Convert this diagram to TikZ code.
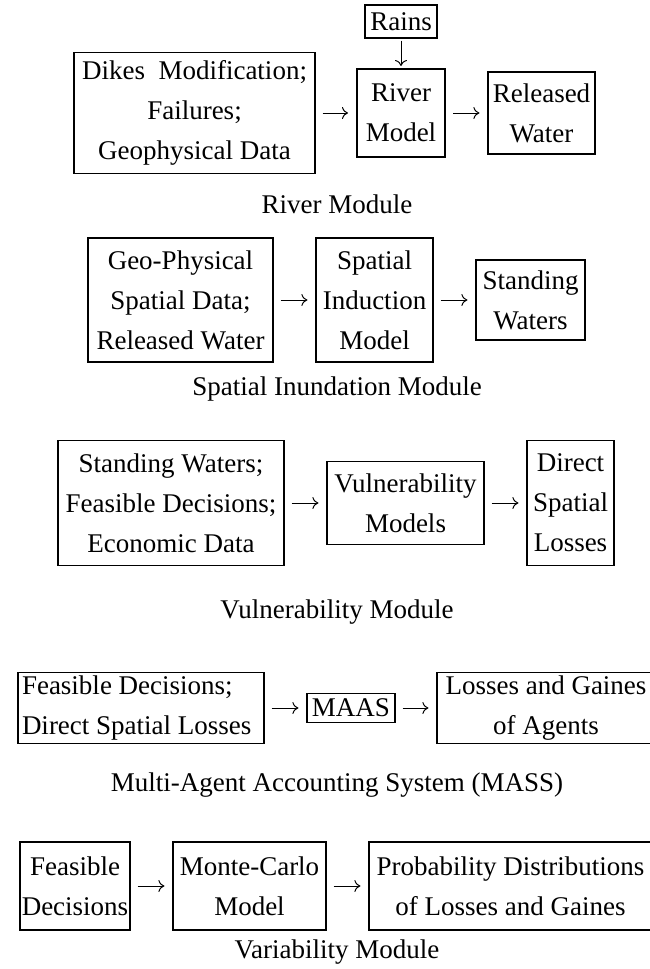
\documentclass[tikz,border=0pt]{standalone}
\usepackage{fontspec}
\setmainfont{Liberation Serif}
\usetikzlibrary{arrows.meta}
\begin{document}
\begin{tikzpicture}[x=0.5pt, y=-0.5pt,
        every node/.style={font=\fontsize{13.5}{20}\selectfont},
        box/.style={draw, line width=0.6pt, inner sep=0pt, align=center},
        lbl/.style={inner sep=0pt},
        flow/.style={-{To[length=3pt,width=6pt]}, line width=0.5pt, shorten <=3.5pt, shorten >=4pt}]
        \useasboundingbox (0,0) rectangle (649,969);
        % river module
        \node[box, minimum width=36pt, minimum height=16.5pt] (rains) at (401,21.5) {Rains};
        \node[box, line width=1pt, minimum width=44pt, minimum height=44pt] (river) at (401,113) {River\\Model};
        \node[box, minimum width=120.5pt, minimum height=60.5pt] (dikes) at (194.5,113) {Dikes~~Modification;\\Failures;\\Geophysical Data};
        \node[box, minimum width=53.5pt, minimum height=41pt] (released) at (541.5,113) {Released\\Water};
        \node[lbl] (riverlbl) at (337,204) {River Module};
        \draw[flow, shorten <=1pt, shorten >=1pt] (rains) -- (river);
        \draw[flow] (dikes) -- (river);
        \draw[flow] (river) -- (released);
        % spatial inundation module
        \node[box, minimum width=92.5pt, minimum height=62pt] (geo) at (180.5,300) {Geo-Physical\\Spatial Data;\\Released Water};
        \node[box, minimum width=58.5pt, minimum height=62pt] (induction) at (374.5,300) {Spatial\\Induction\\Model};
        \node[box, minimum width=54.5pt, minimum height=40pt] (standing) at (530.5,300) {Standing\\Waters};
        \node[lbl] (inundlbl) at (337,389) {Spatial Inundation Module};
        \draw[flow] (geo) -- (induction);
        \draw[flow] (induction) -- (standing);
        % vulnerability module
        \node[box, minimum width=113pt, minimum height=62.5pt] (inputs) at (171,503) {Standing Waters;\\Feasible Decisions;\\Economic Data};
        \node[box, minimum width=78.5pt, minimum height=41.5pt] (vuln) at (405.5,503) {Vulnerability\\Models};
        \node[box, minimum width=43.5pt, minimum height=62.5pt] (direct) at (570.5,503) {Direct\\Spatial\\Losses};
        \node[lbl] (vulnlbl) at (337,612) {Vulnerability Module};
        \draw[flow] (inputs) -- (vuln);
        \draw[flow] (vuln) -- (direct);
        % accounting system
        \node[box, align=flush left, inner xsep=2pt, text width=119pt, minimum height=35.5pt] (decisions) at (141,708) {Feasible Decisions;\\Direct Spatial Losses};
        \node[box, minimum width=44pt, minimum height=14.5pt] (maas) at (351,708) {MAAS};
        \node[box, minimum width=109pt, minimum height=35.5pt] (gains) at (546,708) {Losses and Gaines\\of Agents};
        \node[lbl] (maslbl) at (337,785) {Multi-Agent Accounting System (MASS)};
        \draw[flow] (decisions) -- (maas);
        \draw[flow] (maas) -- (gains);
        % variability module
        \node[box, minimum width=55pt, minimum height=44pt] (feasible) at (75,886) {Feasible\\Decisions};
        \node[box, minimum width=76.5pt, minimum height=44pt] (monte) at (249.5,886) {Monte-Carlo\\Model};
        \node[box, minimum width=141.5pt, minimum height=44pt] (prob) at (510.5,886) {Probability Distributions\\of Losses and Gaines};
        \node[lbl] (varlbl) at (337,952) {Variability Module};
        \draw[flow] (feasible) -- (monte);
        \draw[flow] (monte) -- (prob);
\end{tikzpicture}
\end{document}
